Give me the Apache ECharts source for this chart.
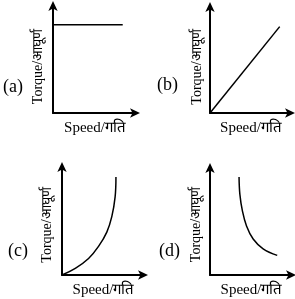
<!DOCTYPE html>
<html><head><meta charset="utf-8">
<script src="https://cdn.jsdelivr.net/npm/echarts@6/dist/echarts.min.js"></script>
<style>html,body{margin:0;padding:0;background:#fff}#c{width:295px;height:299px}</style>
</head><body><div id="c"></div>
<script>
const panelLabels = ['(a)', '(b)', '(c)', '(d)'];
const xName = 'Speed/गति';
const yName = 'Torque/आघूर्ण';
// curve data in axis units (0..100)
const curveA = [[0, 81], [83, 81]];
const curveB = [[0, 0], [85, 80]];
const curveC = [[0, 0], [16, 6], [32, 15], [44, 26], [54, 39], [60, 53], [64, 71], [65, 89]];
const curveD = [[35, 90], [36, 74], [39, 59], [44, 45], [52, 33], [64, 24], [81, 18]];

const curves = [curveA, curveB, curveC, curveD];
const grids = [
  {left: 53, top: 4, width: 84, height: 109},
  {left: 210, top: 5, width: 82, height: 108},
  {left: 62, top: 165, width: 83, height: 110},
  {left: 210, top: 166, width: 83, height: 110}
];
const labelPos = [[3, 78], [157, 76], [8, 242], [159, 242]];
const yGap = [8, 6, 8, 7];
const yPad = [16, 16, 10, 8];
const font = '"Liberation Serif", "Noto Serif", serif';

const axisCommon = {
  type: 'value', min: 0, max: 100,
  axisTick: {show: false}, axisLabel: {show: false}, splitLine: {show: false},
  axisLine: {show: true, lineStyle: {color: '#000', width: 2}, symbol: ['none', 'arrow'], symbolSize: [7, 10], symbolOffset: [0, 3]}
};

const option = {
  animation: false,
  backgroundColor: '#fff',
  grid: grids,
  xAxis: grids.map((g, i) => Object.assign({}, axisCommon, {
    gridIndex: i, name: xName, nameLocation: 'middle', nameGap: 8,
    nameTextStyle: {fontFamily: font, fontSize: 15, color: '#000'}
  })),
  yAxis: grids.map((g, i) => Object.assign({}, axisCommon, {
    gridIndex: i, name: yName, nameLocation: 'middle', nameGap: yGap[i],
    nameTextStyle: {fontFamily: font, fontSize: 14, color: '#000', padding: [0, yPad[i], 0, 0]}
  })),
  series: curves.map((d, i) => ({
    type: 'line', xAxisIndex: i, yAxisIndex: i, data: d, smooth: i >= 2 ? 0.4 : false,
    showSymbol: false, lineStyle: {color: '#000', width: 1.5}
  })),
  graphic: panelLabels.map((t, i) => ({
    type: 'text', left: labelPos[i][0], top: labelPos[i][1],
    style: {text: t, fontFamily: font, fontSize: 18, fill: '#000'}
  }))
};
const chart = echarts.init(document.getElementById('c'), null, {renderer: 'canvas'});
chart.setOption(option);
</script>
</body></html>
